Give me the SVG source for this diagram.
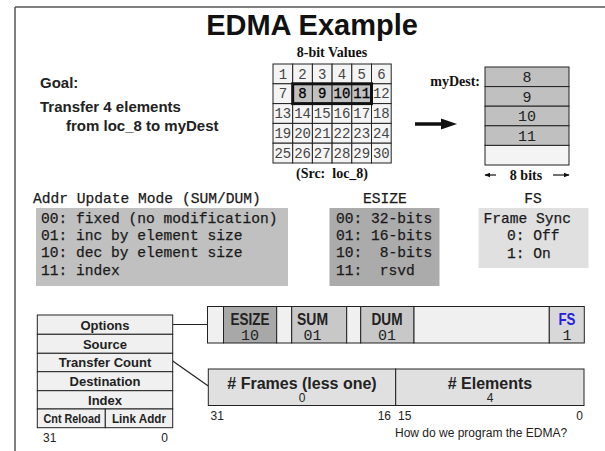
<svg xmlns="http://www.w3.org/2000/svg" width="605" height="451" viewBox="0 0 605 451">
<style>
.sans{font-family:"Liberation Sans",Arial,sans-serif}
.b{font-weight:bold}
.serif{font-family:"Liberation Serif","Times New Roman",serif;font-weight:bold;fill:#111}
.mono{font-family:"Liberation Mono","Courier New",monospace}
.cell{fill:#f4f4f4;stroke:#222;stroke-width:1}
.hcell{fill:#c0c0c0;stroke:#222;stroke-width:1}
.gnum{font-family:"Liberation Mono","Courier New",monospace;font-size:14px;fill:#444;text-anchor:middle}
.hnum{font-family:"Liberation Mono","Courier New",monospace;font-size:14px;fill:#000;text-anchor:middle;stroke:#000;stroke-width:0.3}
.code{font-family:"Liberation Mono","Courier New",monospace;font-size:14.6px;fill:#1a1a1a;stroke:#1a1a1a;stroke-width:0.25}
.reg{fill:#f0f0f0;stroke:#222;stroke-width:1}
.regt{font-family:"Liberation Sans",Arial,sans-serif;font-weight:bold;font-size:13px;fill:#222;text-anchor:middle}
.seg{stroke:#222;stroke-width:1}
.fld{font-family:"Liberation Sans",Arial,sans-serif;font-weight:bold;font-size:17px;fill:#222;text-anchor:middle}
.val{font-family:"Liberation Mono","Courier New",monospace;font-size:15px;fill:#222;text-anchor:middle}
.small{font-family:"Liberation Sans",Arial,sans-serif;font-size:12px;fill:#222}
</style>
<defs>
<marker id="sa" viewBox="0 0 10 10" refX="9" refY="5" markerWidth="6" markerHeight="6" orient="auto-start-reverse" markerUnits="userSpaceOnUse">
<path d="M0,1 L10,5 L0,9 z" fill="#111"/>
</marker>
</defs>
<rect x="0" y="0" width="605" height="451" fill="#ffffff"/>
<g id="frame">
<line x1="15" y1="7" x2="605" y2="7" stroke="#555" stroke-width="1.5"/>
<line x1="15" y1="7" x2="15" y2="451" stroke="#555" stroke-width="1.5"/>
</g>
<g id="title">
<text x="312" y="35" class="sans b" font-size="29" text-anchor="middle" fill="#111">EDMA Example</text>
</g>
<g id="goal">
<text x="40" y="88" class="sans b" font-size="15" fill="#222">Goal:</text>
<text x="40" y="112" class="sans b" font-size="15" fill="#222">Transfer 4 elements</text>
<text x="66" y="131" class="sans b" font-size="15" fill="#222">from loc_8 to myDest</text>
</g>
<g id="source-grid">
<text x="332" y="57" class="serif" font-size="14" text-anchor="middle">8-bit Values</text>
<rect x="273" y="64" width="19.7" height="19.8" class="cell"/><text x="282.85" y="78.5" class="gnum">1</text>
<rect x="292.7" y="64" width="19.7" height="19.8" class="cell"/><text x="302.55" y="78.5" class="gnum">2</text>
<rect x="312.4" y="64" width="19.7" height="19.8" class="cell"/><text x="322.25" y="78.5" class="gnum">3</text>
<rect x="332.1" y="64" width="19.7" height="19.8" class="cell"/><text x="341.95" y="78.5" class="gnum">4</text>
<rect x="351.8" y="64" width="19.7" height="19.8" class="cell"/><text x="361.65" y="78.5" class="gnum">5</text>
<rect x="371.5" y="64" width="19.7" height="19.8" class="cell"/><text x="381.35" y="78.5" class="gnum">6</text>
<rect x="273" y="83.8" width="19.7" height="19.8" class="cell"/><text x="282.85" y="98.3" class="gnum">7</text>
<rect x="292.7" y="83.8" width="19.7" height="19.8" class="hcell"/><text x="302.55" y="98.3" class="hnum">8</text>
<rect x="312.4" y="83.8" width="19.7" height="19.8" class="hcell"/><text x="322.25" y="98.3" class="hnum">9</text>
<rect x="332.1" y="83.8" width="19.7" height="19.8" class="hcell"/><text x="341.95" y="98.3" class="hnum">10</text>
<rect x="351.8" y="83.8" width="19.7" height="19.8" class="hcell"/><text x="361.65" y="98.3" class="hnum">11</text>
<rect x="371.5" y="83.8" width="19.7" height="19.8" class="cell"/><text x="381.35" y="98.3" class="gnum">12</text>
<rect x="273" y="103.6" width="19.7" height="19.8" class="cell"/><text x="282.85" y="118.1" class="gnum">13</text>
<rect x="292.7" y="103.6" width="19.7" height="19.8" class="cell"/><text x="302.55" y="118.1" class="gnum">14</text>
<rect x="312.4" y="103.6" width="19.7" height="19.8" class="cell"/><text x="322.25" y="118.1" class="gnum">15</text>
<rect x="332.1" y="103.6" width="19.7" height="19.8" class="cell"/><text x="341.95" y="118.1" class="gnum">16</text>
<rect x="351.8" y="103.6" width="19.7" height="19.8" class="cell"/><text x="361.65" y="118.1" class="gnum">17</text>
<rect x="371.5" y="103.6" width="19.7" height="19.8" class="cell"/><text x="381.35" y="118.1" class="gnum">18</text>
<rect x="273" y="123.4" width="19.7" height="19.8" class="cell"/><text x="282.85" y="137.9" class="gnum">19</text>
<rect x="292.7" y="123.4" width="19.7" height="19.8" class="cell"/><text x="302.55" y="137.9" class="gnum">20</text>
<rect x="312.4" y="123.4" width="19.7" height="19.8" class="cell"/><text x="322.25" y="137.9" class="gnum">21</text>
<rect x="332.1" y="123.4" width="19.7" height="19.8" class="cell"/><text x="341.95" y="137.9" class="gnum">22</text>
<rect x="351.8" y="123.4" width="19.7" height="19.8" class="cell"/><text x="361.65" y="137.9" class="gnum">23</text>
<rect x="371.5" y="123.4" width="19.7" height="19.8" class="cell"/><text x="381.35" y="137.9" class="gnum">24</text>
<rect x="273" y="143.2" width="19.7" height="19.8" class="cell"/><text x="282.85" y="157.7" class="gnum">25</text>
<rect x="292.7" y="143.2" width="19.7" height="19.8" class="cell"/><text x="302.55" y="157.7" class="gnum">26</text>
<rect x="312.4" y="143.2" width="19.7" height="19.8" class="cell"/><text x="322.25" y="157.7" class="gnum">27</text>
<rect x="332.1" y="143.2" width="19.7" height="19.8" class="cell"/><text x="341.95" y="157.7" class="gnum">28</text>
<rect x="351.8" y="143.2" width="19.7" height="19.8" class="cell"/><text x="361.65" y="157.7" class="gnum">29</text>
<rect x="371.5" y="143.2" width="19.7" height="19.8" class="cell"/><text x="381.35" y="157.7" class="gnum">30</text>
<rect x="292.7" y="83.8" width="78.8" height="19.8" fill="none" stroke="#111" stroke-width="3"/>
<text x="332" y="178" class="serif" font-size="14" text-anchor="middle" xml:space="preserve">(Src:  loc_8)</text>
</g>
<g id="dest">
<text x="480" y="86" class="serif" font-size="14" text-anchor="end">myDest:</text>
<rect x="485" y="67" width="84" height="19.6" class="hcell"/><text x="527" y="82" class="val">8</text>
<rect x="485" y="86.6" width="84" height="19.6" class="hcell"/><text x="527" y="101.6" class="val">9</text>
<rect x="485" y="106.2" width="84" height="19.6" class="hcell"/><text x="527" y="121.2" class="val">10</text>
<rect x="485" y="125.8" width="84" height="19.6" class="hcell"/><text x="527" y="140.8" class="val">11</text>
<rect x="485" y="145.4" width="84" height="19.6" class="cell"/>
<text x="526" y="180" class="serif" font-size="14" text-anchor="middle">8 bits</text>
</g>
<g id="connectors">
<line x1="415" y1="124" x2="443" y2="124" stroke="#111" stroke-width="3.5"/>
<path d="M441,118.5 L457,124 L441,129.5 z" fill="#111"/>
<line x1="496" y1="175" x2="485" y2="175" stroke="#111" stroke-width="1.2" marker-end="url(#sa)"/>
<line x1="553" y1="175" x2="569" y2="175" stroke="#111" stroke-width="1.2" marker-end="url(#sa)"/>
<line x1="172.7" y1="324.5" x2="207.5" y2="324.5" stroke="#222" stroke-width="1"/>
<line x1="172.7" y1="361" x2="208.3" y2="386" stroke="#222" stroke-width="1.2"/>
</g>
<g id="addr-mode">
<text x="33" y="203" class="code" font-size="15.8">Addr Update Mode (SUM/DUM)</text>
<rect x="36" y="208" width="252" height="78" fill="#c0c0c0"/>
<text x="41" y="222.5" class="code" xml:space="preserve">00: fixed (no modification)</text>
<text x="41" y="239.8" class="code" xml:space="preserve">01: inc by element size</text>
<text x="41" y="257" class="code" xml:space="preserve">10: dec by element size</text>
<text x="41" y="275" class="code" xml:space="preserve">11: index</text>
</g>
<g id="esize">
<text x="385" y="203" class="code" font-size="15" text-anchor="middle">ESIZE</text>
<rect x="329.5" y="208" width="110" height="78" fill="#ababab"/>
<text x="336" y="222.5" class="code" xml:space="preserve">00: 32-bits</text>
<text x="336" y="239.8" class="code" xml:space="preserve">01: 16-bits</text>
<text x="336" y="257" class="code" xml:space="preserve">10:  8-bits</text>
<text x="336" y="275" class="code" xml:space="preserve">11:  rsvd</text>
</g>
<g id="fs">
<text x="533" y="203" class="code" font-size="15" text-anchor="middle">FS</text>
<rect x="478.5" y="208" width="110" height="60" fill="#e0e0e0"/>
<text x="483.5" y="222.5" class="code">Frame Sync</text>
<text x="507" y="240" class="code">0: Off</text>
<text x="507" y="257.5" class="code">1: On</text>
</g>
<g id="register-table">
<rect x="37.3" y="315" width="135.4" height="19.3" class="reg"/><text x="105" y="329.5" class="regt">Options</text>
<rect x="37.3" y="334.3" width="135.4" height="19" class="reg"/><text x="105" y="348.5" class="regt">Source</text>
<rect x="37.3" y="353.3" width="135.4" height="18.4" class="reg"/><text x="105" y="367" class="regt">Transfer Count</text>
<rect x="37.3" y="371.7" width="135.4" height="19" class="reg"/><text x="105" y="386" class="regt">Destination</text>
<rect x="37.3" y="390.7" width="135.4" height="18.3" class="reg"/><text x="105" y="404.5" class="regt">Index</text>
<rect x="37.3" y="409" width="68" height="18.7" class="reg"/><text x="72" y="423" class="regt" font-size="12.5" textLength="57" lengthAdjust="spacingAndGlyphs">Cnt Reload</text>
<rect x="105.3" y="409" width="67.4" height="18.7" class="reg"/><text x="139" y="423" class="regt" font-size="12.5" textLength="54" lengthAdjust="spacingAndGlyphs">Link Addr</text>
<text x="43" y="442" class="small">31</text>
<text x="168" y="442" class="small" text-anchor="end">0</text>
</g>
<g id="options-bar">
<rect x="207.5" y="306.5" width="16" height="36.5" class="seg" fill="#f0f0f0"/>
<rect x="223.5" y="306.5" width="53.2" height="36.5" class="seg" fill="#a8a8a8"/>
<rect x="276.7" y="306.5" width="15" height="36.5" class="seg" fill="#f0f0f0"/>
<rect x="291.7" y="306.5" width="55" height="36.5" class="seg" fill="#c8c8c8"/>
<rect x="346.7" y="306.5" width="14" height="36.5" class="seg" fill="#f0f0f0"/>
<rect x="360.7" y="306.5" width="53.3" height="36.5" class="seg" fill="#c8c8c8"/>
<rect x="414" y="306.5" width="135.3" height="36.5" class="seg" fill="#f0f0f0"/>
<rect x="549.3" y="306.5" width="35" height="36.5" class="seg" fill="#d8d8d8"/>
<text x="250" y="325" class="fld" textLength="39" lengthAdjust="spacingAndGlyphs">ESIZE</text>
<text x="250" y="340" class="val">10</text>
<text x="312.5" y="325" class="fld" textLength="31" lengthAdjust="spacingAndGlyphs">SUM</text>
<text x="312.5" y="340" class="val">01</text>
<text x="387" y="325" class="fld" textLength="31" lengthAdjust="spacingAndGlyphs">DUM</text>
<text x="387" y="340" class="val">01</text>
<text x="567" y="325" class="fld" style="fill:#2222dd" textLength="17" lengthAdjust="spacingAndGlyphs">FS</text>
<text x="567" y="340" class="val">1</text>
</g>
<g id="count-bar">
<rect x="208.3" y="369" width="187.4" height="36.5" class="seg" fill="#e0e0e0"/>
<rect x="395.7" y="369" width="188.3" height="36.5" class="seg" fill="#e0e0e0"/>
<text x="302" y="388.5" class="sans b" font-size="16" fill="#222" text-anchor="middle">#  Frames (less one)</text>
<text x="302" y="401.5" class="small" font-size="13" text-anchor="middle">0</text>
<text x="490" y="388.5" class="sans b" font-size="16" fill="#222" text-anchor="middle">#  Elements</text>
<text x="490" y="401.5" class="small" font-size="13" text-anchor="middle">4</text>
<text x="210.5" y="420" class="small" font-size="13">31</text>
<text x="391" y="420" class="small" font-size="13" text-anchor="end">16</text>
<text x="398" y="420" class="small" font-size="13">15</text>
<text x="583" y="420" class="small" font-size="13" text-anchor="end">0</text>
</g>
<g id="caption">
<text x="395" y="437" class="small" font-size="13" fill="#333">How do we program the EDMA?</text>
</g>
</svg>
